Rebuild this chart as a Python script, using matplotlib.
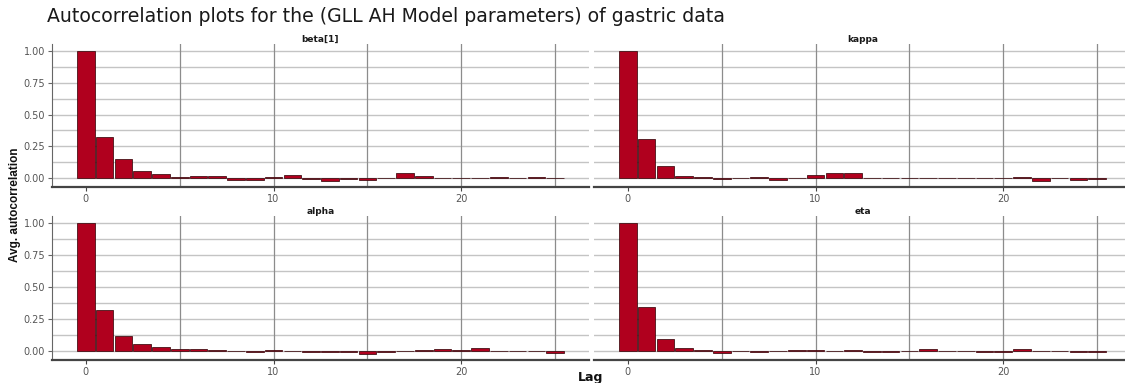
import matplotlib
matplotlib.use("Agg")
import matplotlib.pyplot as plt
import numpy as np

plt.rcParams['font.family'] = ['DejaVu Sans']

title = "Autocorrelation plots for the (GLL AH Model parameters) of gastric data"
lags = list(range(26))

beta1 = [1.0, 0.325, 0.148, 0.055, 0.036, 0.010, 0.016, 0.015, -0.014, -0.010,
         0.008, 0.026, -0.002, -0.018, -0.008, -0.013, 0.005, 0.039, 0.015, 0.001,
         0.000, 0.000, 0.012, 0.003, 0.008, 0.001]
kappa = [1.0, 0.305, 0.096, 0.020, 0.010, -0.005, 0.004, 0.008, -0.010, 0.003,
         0.028, 0.039, 0.039, 0.003, 0.003, 0.003, 0.006, 0.000, 0.006, 0.002,
         -0.001, 0.013, -0.019, 0.000, -0.015, -0.002]
alpha = [1.0, 0.321, 0.117, 0.060, 0.037, 0.015, 0.018, 0.010, 0.000, -0.004,
         0.008, 0.000, -0.006, -0.008, -0.004, -0.020, -0.004, 0.000, 0.013, 0.015,
         0.010, 0.029, 0.002, 0.002, 0.000, -0.012]
eta = [1.0, 0.347, 0.099, 0.026, 0.008, -0.010, 0.002, -0.008, 0.002, 0.008,
       0.008, 0.002, 0.008, -0.002, -0.002, 0.002, 0.016, 0.002, 0.002, -0.008,
       -0.008, 0.018, 0.002, 0.000, -0.008, -0.002]

panels = [("beta[1]", beta1), ("kappa", kappa), ("alpha", alpha), ("eta", eta)]

W, H = 1125, 383
fig = plt.figure(figsize=(W / 100, H / 100), dpi=100)

# panel boxes in pixels: (left, top, right, bottom)
boxes = [(52, 44, 589, 187), (594, 44, 1131, 187),
         (52, 216, 589, 360), (594, 216, 1131, 360)]

bar_color = "#b0001e"
grid_h = "#c4c4c4"
grid_v = "#8c8c8c"
tick_col = "#555555"

for i, ((name, vals), (l, t, r, b)) in enumerate(zip(panels, boxes)):
    ax = fig.add_axes([l / W, 1 - b / H, (r - l) / W, (b - t) / H])
    ax.set_xlim(-1.8, 26.8)
    ax.set_ylim(-0.068, 1.053)
    for y in np.arange(0, 1.01, 0.125):
        ax.axhline(y, color=grid_h, lw=1.0, zorder=0)
    for x in [5, 10, 15, 20, 25]:
        ax.axvline(x, color=grid_v, lw=0.9, zorder=0)
    ax.bar(lags, vals, width=0.94, color=bar_color, edgecolor="#3a080c",
           linewidth=0.55, zorder=2)
    for s in ["top", "right"]:
        ax.spines[s].set_visible(False)
    ax.spines["bottom"].set_color("#444444")
    ax.spines["bottom"].set_linewidth(1.6)
    ax.set_xticks([0, 10, 20])
    ax.set_xticklabels(["0", "10", "20"])
    ax.tick_params(axis="x", length=3, width=0.8, color="#444444",
                   labelsize=7, labelcolor=tick_col, pad=2)
    if i % 2 == 0:
        ax.spines["left"].set_color("#666666")
        ax.spines["left"].set_linewidth(0.8)
        ax.set_yticks([0, 0.25, 0.5, 0.75, 1.0])
        ax.set_yticklabels(["0.00", "0.25", "0.50", "0.75", "1.00"])
        ax.tick_params(axis="y", length=3, width=0.8, color="#666666",
                       labelsize=7, labelcolor=tick_col, pad=2)
    else:
        ax.spines["left"].set_visible(False)
        ax.set_yticks([])
    ax.set_facecolor("white")
    fig.text((l + r) / 2 / W, 1 - (t - 5) / H, name, ha="center", va="center",
             fontsize=6.5, fontweight="bold", color="#1a1a1a")

fig.text(47 / W, 1 - 17 / H, title, ha="left", va="center", fontsize=13.6,
         color="#1a1a1a")
fig.text(15 / W, 1 - 205 / H, "Avg. autocorrelation", rotation=90, ha="center",
         va="center", fontsize=8.5, fontweight="bold", color="#111111",
         family="Liberation Sans")
fig.text(591 / W, 1 - 377 / H, "Lag", ha="center", va="center", fontsize=9,
         fontweight="bold", color="#111111")

fig.savefig("out.png", dpi=100, facecolor="white")
